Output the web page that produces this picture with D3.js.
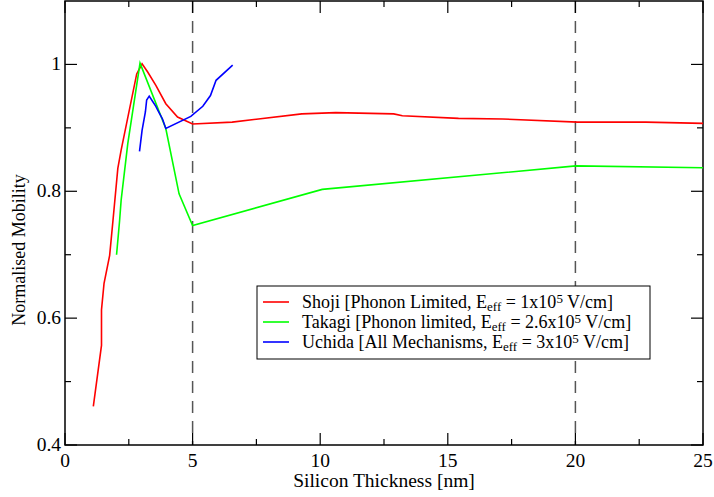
<!DOCTYPE html>
<html>
<head>
<meta charset="utf-8">
<script src="https://cdn.jsdelivr.net/npm/d3@7"></script>
<style>
  body { margin: 0; background: #fff; }
</style>
</head>
<body>
<div id="chart"></div>
<script>
// Shoji [Phonon Limited]
const shojiX = [1.11, 1.43, 1.43, 1.53, 1.75, 1.88, 2.07, 2.2, 2.81, 3.02, 3.24, 3.56, 3.95, 4.41, 5.0, 6.55, 7.58, 9.28, 10.61, 12.88, 13.22, 15.42, 17.15, 20.09, 22.76, 25.0];
const shojiY = [0.461, 0.557, 0.613, 0.655, 0.699, 0.754, 0.836, 0.865, 0.985, 1.001, 0.988, 0.967, 0.938, 0.917, 0.906, 0.909, 0.914, 0.922, 0.924, 0.922, 0.919, 0.915, 0.914, 0.909, 0.909, 0.907];
// Takagi [Phonon limited]
const takagiX = [2.02, 2.14, 2.2, 2.46, 2.94, 3.95, 4.47, 5.0, 10.08, 20.02, 25.0];
const takagiY = [0.700, 0.754, 0.786, 0.875, 1.002, 0.899, 0.796, 0.746, 0.803, 0.840, 0.837];
// Uchida [All Mechanisms]
const uchidaX = [2.92, 3.02, 3.15, 3.2, 3.3, 3.43, 3.56, 3.67, 3.82, 3.95, 4.93, 5.4, 5.7, 5.92, 6.57];
const uchidaY = [0.863, 0.896, 0.925, 0.944, 0.950, 0.942, 0.934, 0.925, 0.914, 0.899, 0.918, 0.934, 0.951, 0.975, 0.999];

const xTicks = [0, 5, 10, 15, 20, 25];
const xMinor = [2.5, 7.5, 12.5, 17.5, 22.5];
const yTicks = [0.4, 0.6, 0.8, 1.0];
const yMinor = [0.5, 0.7, 0.9];
const markerX = [5, 20];

const width = 714, height = 497;
const pl = 65, pr = 703, pt = 1, pb = 445;
const serif = "'Liberation Serif', 'Times New Roman', serif";

const x = d3.scaleLinear().domain([0, 25]).range([pl, pr]);
const y = d3.scaleLinear().domain([0.4, 1.1]).range([pb, pt]);

const svg = d3.select("#chart").append("svg")
  .attr("width", width).attr("height", height)
  .style("font-family", serif);

// dashed markers at 5 nm and 20 nm
svg.selectAll(".marker").data(markerX).enter().append("line")
  .attr("x1", d => x(d)).attr("x2", d => x(d))
  .attr("y1", pt).attr("y2", pb)
  .attr("stroke", "#555").attr("stroke-width", 1.5)
  .attr("stroke-dasharray", "12,8");

// ticks on all four sides, pointing inward
const tickLine = (g, arr, len, horiz) => {
  arr.forEach(v => {
    if (horiz) {
      g.append("line").attr("x1", x(v)).attr("x2", x(v)).attr("y1", pb).attr("y2", pb - len);
      g.append("line").attr("x1", x(v)).attr("x2", x(v)).attr("y1", pt).attr("y2", pt + len);
    } else {
      g.append("line").attr("y1", y(v)).attr("y2", y(v)).attr("x1", pl).attr("x2", pl + len);
      g.append("line").attr("y1", y(v)).attr("y2", y(v)).attr("x1", pr).attr("x2", pr - len);
    }
  });
};
const ticks = svg.append("g").attr("stroke", "#000").attr("stroke-width", 1.2);
tickLine(ticks, xTicks, 12, true);
tickLine(ticks, xMinor, 6, true);
tickLine(ticks, yTicks, 12, false);
tickLine(ticks, yMinor, 6, false);

// frame
svg.append("rect")
  .attr("x", pl).attr("y", pt)
  .attr("width", pr - pl).attr("height", pb - pt)
  .attr("fill", "none").attr("stroke", "#000").attr("stroke-width", 1.5);

// tick labels
svg.selectAll(".xl").data(xTicks).enter().append("text")
  .attr("x", d => x(d)).attr("y", pb + 22)
  .attr("text-anchor", "middle").attr("font-size", 19.5)
  .text(d => d);
svg.selectAll(".yl").data(yTicks).enter().append("text")
  .attr("x", pl - 4).attr("y", d => y(d) + 6)
  .attr("text-anchor", "end").attr("font-size", 19.5)
  .text(d => d === 1 ? "1" : d.toFixed(1));

// axis titles
svg.append("text")
  .attr("x", (pl + pr) / 2).attr("y", 487)
  .attr("text-anchor", "middle").attr("font-size", 19.5)
  .text("Silicon Thickness [nm]");
svg.append("text")
  .attr("transform", "translate(25,250) rotate(-90)")
  .attr("text-anchor", "middle").attr("font-size", 18)
  .text("Normalised Mobility");

// series
const series = [
  { xs: shojiX, ys: shojiY, color: "#ff0000" },
  { xs: takagiX, ys: takagiY, color: "#00ff00" },
  { xs: uchidaX, ys: uchidaY, color: "#0000ff" }
];
const line = d3.line().x(d => x(d[0])).y(d => y(d[1]));
series.forEach(s => {
  svg.append("path")
    .datum(s.xs.map((v, i) => [v, s.ys[i]]))
    .attr("d", line)
    .attr("fill", "none")
    .attr("stroke", s.color)
    .attr("stroke-width", 1.6);
});

// legend
const legendItems = [
  { name: "Shoji [Phonon Limited, E", val: " = 1x10", color: "#ff0000" },
  { name: "Takagi [Phonon limited, E", val: " = 2.6x10", color: "#00ff00" },
  { name: "Uchida [All Mechanisms, E", val: " = 3x10", color: "#0000ff" }
];
const legend = svg.append("g");
legend.append("rect")
  .attr("x", 257).attr("y", 286).attr("width", 393).attr("height", 73)
  .attr("fill", "#fff").attr("stroke", "#000").attr("stroke-width", 1);
legendItems.forEach((d, i) => {
  const ly = 302 + i * 20;
  legend.append("line")
    .attr("x1", 263).attr("x2", 289).attr("y1", ly).attr("y2", ly)
    .attr("stroke", d.color).attr("stroke-width", 1.6);
  const t = legend.append("text")
    .attr("x", 302).attr("y", ly + 6).attr("font-size", 18);
  t.append("tspan").text(d.name);
  t.append("tspan").attr("font-size", 13).attr("dy", 3).text("eff");
  t.append("tspan").attr("dy", -3).text(d.val);
  t.append("tspan").attr("font-size", 13).attr("dy", -5).text("5");
  t.append("tspan").attr("dy", 5).text(" V/cm]");
});
</script>
</body>
</html>
